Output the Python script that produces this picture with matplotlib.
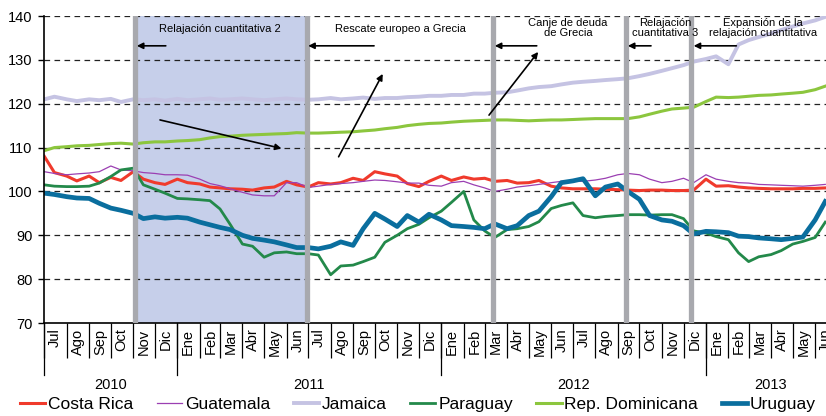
import matplotlib
matplotlib.use("Agg")
import matplotlib.pyplot as plt
import matplotlib.transforms as mtransforms
import pandas as pd

plt.rcParams['font.family'] = ['Liberation Sans', 'DejaVu Sans']

# ---------------- data (semi-monthly readings, 1st and 15th of each month) -------------
start_date = '2010-07-01'
n_points = 72

costa_rica = [108.0, 104.3, 103.5, 102.4, 103.5, 102.0, 103.2, 102.5, 104.5, 102.8,
              102.0, 101.6, 102.8, 102.0, 101.7, 101.0, 100.8, 100.6, 100.5, 100.3,
              100.8, 101.0, 102.3, 101.5, 101.0, 102.0, 101.7, 102.0, 103.0, 102.5,
              104.5, 104.0, 103.5, 101.8, 101.1, 102.3, 103.5, 102.5, 103.3, 102.8,
              103.0, 102.3, 102.5, 101.9, 102.0, 102.5, 101.2, 100.8, 100.6, 100.6,
              100.6, 100.5, 100.4, 100.3, 100.2, 100.3, 100.3, 100.2, 100.2, 100.3,
              102.8, 101.2, 101.3, 101.0, 100.8, 100.7, 100.6, 100.6, 100.6, 100.7,
              100.7, 100.8]

guatemala = [104.5, 104.1, 103.8, 104.0, 104.2, 104.5, 105.8, 104.9, 104.7, 104.3,
             104.1, 103.8, 103.8, 103.7, 102.8, 101.8, 101.3, 100.6, 99.8, 99.2,
             99.0, 99.0, 102.0, 102.0, 100.9, 101.2, 101.6, 101.8, 102.0, 102.3,
             102.6, 102.5, 102.2, 101.9, 101.9, 101.4, 101.2, 102.0, 102.3, 101.5,
             100.8, 100.0, 100.5, 101.0, 101.3, 101.6, 102.0, 102.3, 102.3, 102.3,
             102.6, 103.0, 103.8, 104.1, 103.8, 102.8, 102.0, 102.3, 103.0, 102.0,
             103.8, 102.8, 102.3, 102.0, 101.9, 101.6, 101.5, 101.4, 101.3, 101.2,
             101.4, 101.6]

jamaica = [121.0, 121.6, 121.0, 120.6, 121.0, 120.8, 121.1, 120.4, 121.0, 120.8,
           121.0, 120.7, 121.1, 120.8, 121.0, 121.2, 120.9, 121.0, 121.2, 121.0,
           120.8, 121.0, 121.2, 121.0, 120.9, 121.0, 121.3, 121.0, 121.2, 121.4,
           121.1, 121.3, 121.3, 121.5, 121.6, 121.8, 121.8, 122.0, 122.0, 122.3,
           122.3, 122.5, 122.6, 123.0, 123.5, 123.8, 124.0, 124.4, 124.8, 125.0,
           125.2, 125.4, 125.6, 125.8, 126.3, 126.8, 127.5, 128.1, 128.8, 129.6,
           130.2, 130.8, 129.0, 133.5, 134.5, 135.2, 136.0, 136.8, 137.6, 138.3,
           139.0, 139.8]

paraguay = [101.5, 101.2, 101.1, 101.1, 101.2, 101.9, 103.4, 104.9, 105.3, 101.5,
            100.5, 99.6, 98.4, 98.3, 98.1, 97.9, 96.0, 92.5, 88.0, 87.5,
            85.0, 86.0, 86.2, 85.8, 85.8, 85.5, 81.0, 83.0, 83.2, 84.0,
            85.0, 88.4, 90.0, 91.5, 92.5, 94.0, 95.5, 97.5, 100.0, 93.5,
            91.0, 89.5, 91.3, 91.5, 92.0, 93.1, 96.1, 96.8, 97.4, 94.5,
            94.0, 94.3, 94.5, 94.7, 94.7, 94.6, 94.7, 94.7, 93.8, 91.0,
            90.5, 89.7, 89.0, 86.0, 84.0, 85.1, 85.6, 86.5, 88.0, 88.6,
            89.5, 93.0]

rep_dominicana = [109.3, 110.0, 110.2, 110.4, 110.5, 110.7, 110.9, 111.0, 110.8, 111.1,
                  111.3, 111.3, 111.5, 111.6, 111.8, 112.2, 112.5, 112.6, 112.8, 112.9,
                  113.0, 113.1, 113.2, 113.4, 113.3, 113.3, 113.4, 113.5, 113.6, 113.8,
                  114.0, 114.3, 114.6, 115.0, 115.3, 115.5, 115.6, 115.8, 116.0, 116.1,
                  116.2, 116.3, 116.3, 116.2, 116.1, 116.2, 116.3, 116.3, 116.4, 116.5,
                  116.6, 116.6, 116.6, 116.6, 117.0, 117.6, 118.3, 118.8, 119.0, 119.2,
                  120.5, 121.5, 121.4, 121.5, 121.7, 121.9, 122.0, 122.2, 122.4, 122.6,
                  123.2, 124.0]

uruguay = [99.6, 99.3, 98.8, 98.5, 98.4, 97.3, 96.2, 95.7, 95.0, 93.8,
           94.2, 93.9, 94.1, 93.9, 93.0, 92.4, 91.8, 91.3, 90.0, 89.3,
           88.9, 88.5, 87.8, 87.2, 87.2, 86.9, 87.5, 88.5, 87.7, 91.5,
           95.0, 93.7, 92.0, 94.5, 93.0, 94.8, 93.5, 92.2, 92.0, 91.8,
           91.5, 92.6, 91.5, 92.2, 94.5, 95.5, 98.8, 102.0, 102.4, 102.9,
           99.0, 101.0, 101.7, 100.0, 98.2, 94.5, 93.5, 93.2, 92.2, 90.3,
           90.9, 90.8, 90.6, 89.8, 89.7, 89.4, 89.2, 89.0, 89.3, 89.6,
           93.5, 97.7]

series_names = ['Costa Rica', 'Guatemala', 'Jamaica', 'Paraguay', 'Rep. Dominicana', 'Uruguay']
series_values = [costa_rica, guatemala, jamaica, paraguay, rep_dominicana, uruguay]
series_colors = ['#f03a2c', '#9b3fb2', '#c5c3e3', '#23894a', '#8cc63e', '#0a6e9e']
series_widths = [2.2, 0.9, 2.8, 2.0, 2.2, 3.4]

event_dates = ['2010-11-03', '2011-06-29', '2012-03-12', '2012-09-13', '2012-12-12']
event_labels = ['Relajación cuantitativa 2', 'Rescate europeo a Grecia',
                'Canje de deuda\nde Grecia', 'Relajación\ncuantitativa 3',
                'Expansión de la\nrelajación cuantitativa']

month_names = ['Ene', 'Feb', 'Mar', 'Abr', 'May', 'Jun', 'Jul', 'Ago', 'Sep', 'Oct', 'Nov', 'Dic']
years = [2010, 2011, 2012, 2013]
y_ticks = [70, 80, 90, 100, 110, 120, 130, 140]

# ---------------- figure -----------------
W, H = 826, 416
fig = plt.figure(figsize=(W / 100, H / 100), dpi=100)
left_px, bottom_px, top_px = 44.3, 323, 16
ax = fig.add_axes([left_px / W, (H - bottom_px) / H, (W - left_px) / W, (bottom_px - top_px) / H])

dates = pd.date_range(start_date, periods=n_points, freq='SMS')
x_start = pd.Timestamp('2010-07-01')
x_end = pd.Timestamp('2013-06-12')

# shaded QE2 region
ev = [pd.Timestamp(d) for d in event_dates]
ax.axvspan(ev[0], ev[1], color='#c6cfea', zorder=0, lw=0)

# grid
ax.set_ylim(70, 140)
ax.set_yticks(y_ticks)
ax.yaxis.grid(True, linestyle=(0, (4.5, 3.5)), color='#222222', linewidth=0.9, zorder=1)
ax.set_axisbelow(False)

for name, vals, col, lw in zip(series_names, series_values, series_colors, series_widths):
    ax.plot(dates, vals, color=col, lw=lw, label=name, zorder=3, solid_joinstyle='round')

# event bars
for d in ev:
    ax.axvline(d, color='#a8a9ae', lw=3.8, zorder=5)

ax.set_xlim(x_start, x_end)

# spines
for s in ['top', 'right']:
    ax.spines[s].set_visible(False)
ax.spines['left'].set_linewidth(1.2)
ax.spines['bottom'].set_linewidth(1.2)
ax.spines['left'].set_zorder(6)

ax.tick_params(axis='y', length=4.5, width=1.0, labelsize=10.5, pad=4)

# x axis: month separators as major ticks, labels as minor ticks
month_starts = pd.date_range('2010-07-01', '2013-06-01', freq='MS')
month_mids = month_starts + pd.Timedelta(days=15)
ax.set_xticks(month_starts)
ax.set_xticklabels([])
ax.tick_params(axis='x', which='major', length=25, width=0.9, direction='out')
ax.set_xticks(month_mids, minor=True)
ax.set_xticklabels([month_names[d.month - 1] for d in month_mids], minor=True,
                   rotation=90, fontsize=10.5)
ax.tick_params(axis='x', which='minor', length=0, pad=4)

# year separators and labels
trans = mtransforms.blended_transform_factory(ax.transData, ax.transAxes)
ax_h_px = bottom_px - top_px
for yr in years:
    ys = max(pd.Timestamp(f'{yr}-01-01'), x_start)
    ax.plot([ys, ys], [0, -52 / ax_h_px], transform=trans, color='k', lw=0.9, clip_on=False)
    ye = min(pd.Timestamp(f'{yr}-12-31'), pd.Timestamp('2013-06-30'))
    mid = ys + (ye - ys) / 2
    ax.text(mid, -62 / ax_h_px, str(yr), transform=trans, ha='center', va='center', fontsize=10.5)

# annotations: texts
text_pos = [('2011-03-01', 137.0), ('2011-11-06', 137.0), ('2012-06-24', 137.3),
            ('2012-11-06', 137.3), ('2013-03-21', 137.3)]
for (d, y), lab in zip(text_pos, event_labels):
    ax.text(pd.Timestamp(d), y, lab, ha='center', va='center', fontsize=8,
            linespacing=1.0, zorder=7)

arrow_kw = dict(arrowstyle='-|>', color='k', lw=1.2, mutation_scale=9, shrinkA=0, shrinkB=0)
h_arrows = [('2010-12-16', '2010-11-06'), ('2011-09-30', '2011-07-01'),
            ('2012-05-12', '2012-03-15'), ('2012-10-17', '2012-09-15'),
            ('2013-02-12', '2012-12-15')]
for a, b in h_arrows:
    ax.annotate('', xy=(pd.Timestamp(b), 133.2), xytext=(pd.Timestamp(a), 133.2),
                arrowprops=arrow_kw, zorder=7)

d_arrows = [(('2010-12-08', 116.3), ('2011-05-25', 109.8)),
            (('2011-08-12', 107.9), ('2011-10-12', 126.8)),
            (('2012-03-07', 117.4), ('2012-05-14', 131.8))]
for (a, ya), (b, yb) in d_arrows:
    ax.annotate('', xy=(pd.Timestamp(b), yb), xytext=(pd.Timestamp(a), ya),
                arrowprops=arrow_kw, zorder=7)

# legend
leg = fig.legend(loc='center left', bbox_to_anchor=(20 / W, 11.5 / H), ncol=6, frameon=False,
                 fontsize=12.5, handlelength=1.45, handletextpad=0.17, columnspacing=1.35,
                 borderaxespad=0, borderpad=0)

fig.savefig('out.png', dpi=100)
